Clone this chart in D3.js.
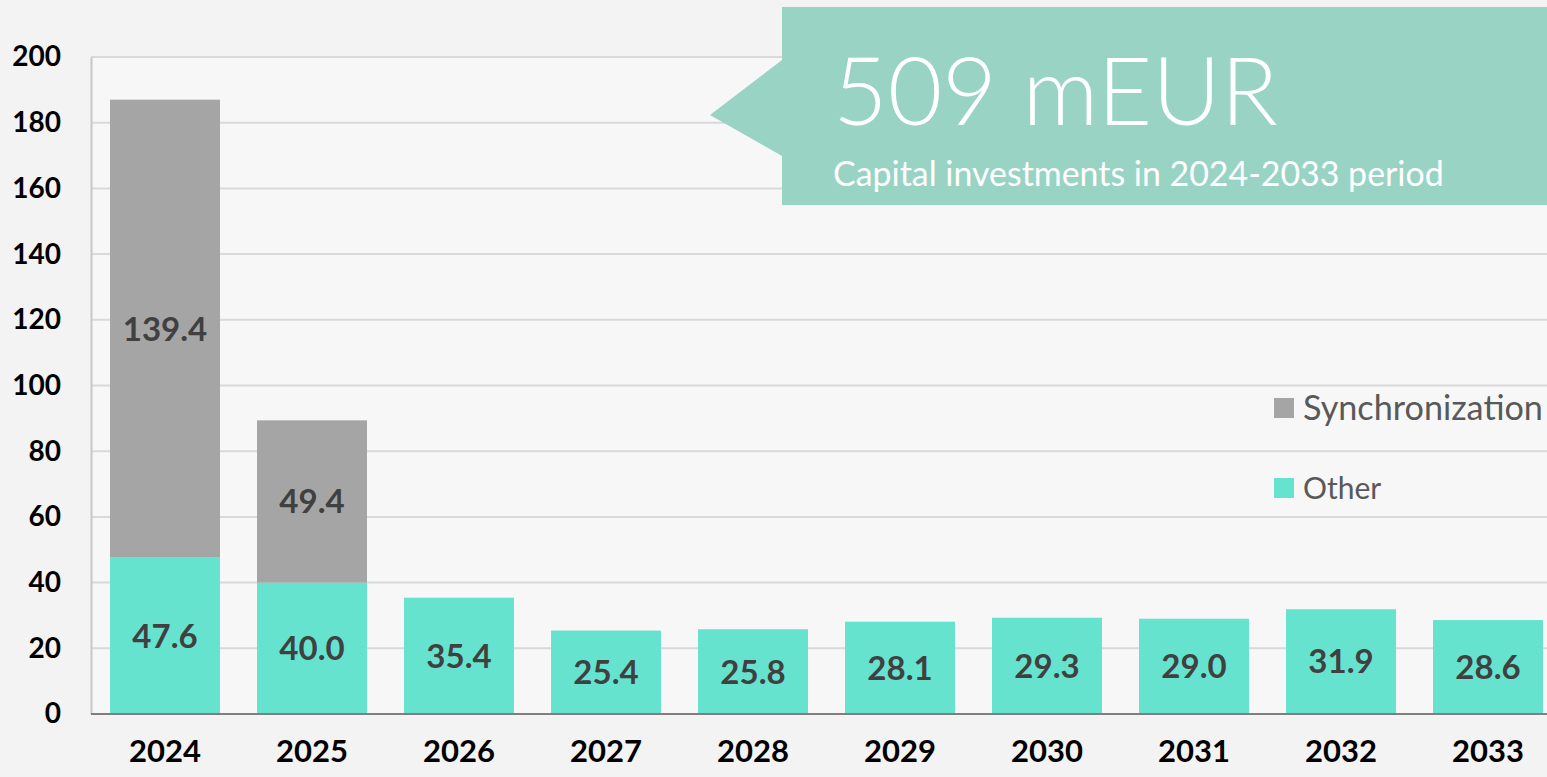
<!DOCTYPE html>
<html><head><meta charset="utf-8">
<script src="https://cdn.jsdelivr.net/npm/d3@7"></script>
<style>
html,body{margin:0;padding:0;background:#f3f3f3;overflow:hidden}
svg{display:block;font-family:Lato,"Open Sans",sans-serif}
</style></head>
<body>
<svg id="c" width="1547" height="777"></svg>
<script>
const years = ["2024","2025","2026","2027","2028","2029","2030","2031","2032","2033"];
const other = [47.6,40.0,35.4,25.4,25.8,28.1,29.3,29.0,31.9,28.6];
const sync  = [139.4,49.4,0,0,0,0,0,0,0,0];
const yTicks = [0,20,40,60,80,100,120,140,160,180,200];
const seriesNames = ["Synchronization","Other"];
const calloutTitle = "509 mEUR";
const calloutSub = "Capital investments in 2024-2033 period";

(function(){
const colOther = "#66e3cf", colSync = "#a5a5a5";
const svg = d3.select("#c");
const W = 1547, H = 777;
const pLeft = 91, pTop = 57, pBottom = 714;

svg.append("rect").attr("width",W).attr("height",H).attr("fill","#f3f3f3");
svg.append("rect").attr("x",pLeft).attr("y",pTop).attr("width",W-pLeft).attr("height",pBottom-pTop).attr("fill","#f7f7f7");

const x = d3.scaleBand().domain(years).range([91.5,1561.5]).paddingInner(0.252).paddingOuter(0.126);
const y = d3.scaleLinear().domain([0,200]).range([pBottom, pTop]);

svg.append("g").selectAll("line").data(yTicks.filter(d=>d>0)).join("line")
  .attr("x1",pLeft).attr("x2",W).attr("y1",d=>y(d)).attr("y2",d=>y(d))
  .attr("stroke","#d9d9d9").attr("stroke-width",2);

const ya = svg.append("g").attr("transform",`translate(${pLeft},0)`)
  .call(d3.axisLeft(y).tickValues(yTicks).tickSize(0).tickPadding(30));
ya.select(".domain").attr("stroke","#c8c8c8").attr("stroke-width",2);
ya.selectAll("text").attr("font-family","Lato").attr("font-weight","bold").attr("font-size",28).attr("fill","#000");

const stack = years.map((yr,i)=>({yr, other:other[i], sync:sync[i]}));
svg.append("g").selectAll("rect").data(stack).join("rect")
  .attr("x",d=>x(d.yr)).attr("width",x.bandwidth())
  .attr("y",d=>y(d.other)).attr("height",d=>y(0)-y(d.other)).attr("fill",colOther);
svg.append("g").selectAll("rect").data(stack.filter(d=>d.sync>0)).join("rect")
  .attr("x",d=>x(d.yr)).attr("width",x.bandwidth())
  .attr("y",d=>y(d.other+d.sync)).attr("height",d=>y(d.other)-y(d.other+d.sync)).attr("fill",colSync);

const xa = svg.append("g").attr("transform",`translate(0,${pBottom})`)
  .call(d3.axisBottom(x).tickSize(0).tickPadding(26));
xa.select(".domain").attr("d",`M${pLeft},0H${W}`).attr("stroke","#7f7f7f").attr("stroke-width",2);
xa.selectAll("text").attr("font-family","Lato").attr("font-weight","bold").attr("font-size",31).attr("fill","#000");

const lab = svg.append("g").attr("font-family","Lato").attr("font-weight","bold").attr("font-size",33)
  .attr("fill","#404040").attr("text-anchor","middle");
lab.selectAll("text.o").data(stack).join("text").attr("class","o")
  .attr("x",d=>x(d.yr)+x.bandwidth()/2).attr("y",d=>(y(0)+y(d.other))/2).attr("dy","0.36em")
  .text(d=>d.other.toFixed(1));
lab.selectAll("text.s").data(stack.filter(d=>d.sync>0)).join("text").attr("class","s")
  .attr("x",d=>x(d.yr)+x.bandwidth()/2).attr("y",d=>(y(d.other)+y(d.other+d.sync))/2).attr("dy","0.36em")
  .text(d=>d.sync.toFixed(1));

svg.append("path").attr("d","M782,7H1547V205H782V156L710,115L782,60Z").attr("fill","#99d3c4");
const t1 = svg.append("text").attr("x",833).attr("y",125).attr("fill","#fff")
  .attr("font-family","Lato").attr("font-weight",300).attr("font-size",96).text(calloutTitle);
const t2 = svg.append("text").attr("x",833).attr("y",186).attr("fill","#fff")
  .attr("font-family","Lato").attr("font-size",28).text(calloutSub);
function fit(t,w){const l=t.node().getComputedTextLength(); const fs=+t.attr("font-size"); t.attr("font-size",fs*w/l);}
fit(t1,445); fit(t2,611);

const lg = svg.append("g");
const legY = [408,488];
const legCol = [colSync,colOther];
seriesNames.forEach((n,i)=>{
  lg.append("rect").attr("x",1274).attr("y",legY[i]-10).attr("width",20).attr("height",20).attr("fill",legCol[i]);
  const t = lg.append("text").attr("x",1303).attr("y",legY[i]).attr("dy","0.36em")
    .attr("font-family","Lato").attr("font-size",30).attr("fill","#595959").text(n);
  if(i===0) fit(t,240);
});
})();
</script>
</body></html>
